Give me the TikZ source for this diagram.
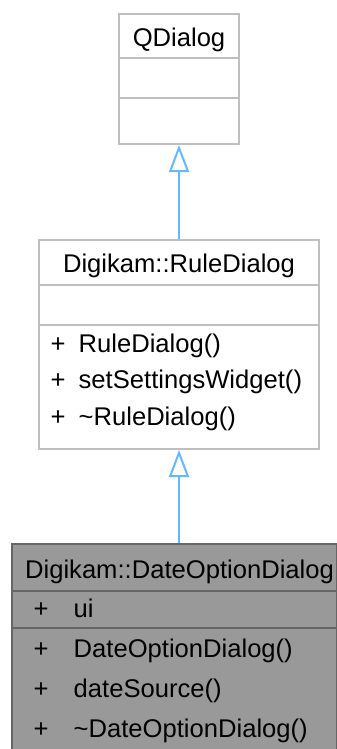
\documentclass[tikz,border=0pt]{standalone}
\usepackage{fontspec}
\setmainfont{Liberation Sans}
\usetikzlibrary{arrows.meta, positioning}
\definecolor{cedge}{HTML}{63B8FF}
\definecolor{cframe}{HTML}{BFBFBF}
\definecolor{cdark}{HTML}{666666}
\definecolor{cfill}{HTML}{999999}
\tikzset{
  every picture/.style={x=1pt, y=-1pt, font=\fontsize{25.6}{30}\selectfont},
  cls/.style={draw=#1, line width=2pt, inner sep=0pt, anchor=north west},
  cls/.default=cframe,
  divider/.style={draw=#1, line width=2pt},
  divider/.default=cframe,
  title/.style={anchor=base, inner sep=0pt},
  memb/.style={anchor=base west, inner sep=0pt},
  inherit/.style={-{Triangle[open, length=27pt, width=20pt]}, draw=cedge, line width=2pt},
}
% name, box, x offset, gap after sign, drop, text
\newcommand{\member}[6]{\node[memb] (#1) at ([shift={(#3,#5)}]#2.north west) {\makebox[#4][l]{+}#6};}

\begin{document}
\begin{tikzpicture}
  \useasboundingbox (0,0) rectangle (337,749);
  % QDialog
  \node[cls, minimum width=120pt, minimum height=130pt] (qdialog) at (118,13) {};
  \draw[divider] ([yshift=-45pt]qdialog.north west) -- ([yshift=-45pt]qdialog.north east);
  \draw[divider] ([yshift=-85pt]qdialog.north west) -- ([yshift=-85pt]qdialog.north east);
  \node[title] (qdname) at ([yshift=-34pt]qdialog.north) {QDialog};
  % Digikam::RuleDialog
  \node[cls, minimum width=280pt, minimum height=209pt] (ruledlg) at (38,239) {};
  \draw[divider] ([yshift=-46pt]ruledlg.north west) -- ([yshift=-46pt]ruledlg.north east);
  \draw[divider] ([yshift=-86pt]ruledlg.north west) -- ([yshift=-86pt]ruledlg.north east);
  \node[title] (rdname) at ([yshift=-33pt]ruledlg.north) {Digikam::RuleDialog};
  \member{rdm1}{ruledlg}{12.5pt}{28pt}{113}{RuleDialog()}
  \member{rdm2}{ruledlg}{12.5pt}{28pt}{149}{setSettingsWidget()}
  \member{rdm3}{ruledlg}{12.5pt}{28pt}{186}{\textasciitilde RuleDialog()}
  % Digikam::DateOptionDialog
  \node[cls=cdark, fill=cfill, minimum width=325pt, minimum height=212pt] (dateopt) at (11,543) {};
  \draw[divider=cdark] ([yshift=-48pt]dateopt.north west) -- ([yshift=-48pt]dateopt.north east);
  \draw[divider=cdark] ([yshift=-85pt]dateopt.north west) -- ([yshift=-85pt]dateopt.north east);
  \node[title] (doname) at ([shift={(5,35)}]dateopt.north) {Digikam::DateOptionDialog};
  \member{doa1}{dateopt}{22.5pt}{40pt}{74}{ui}
  \member{dom1}{dateopt}{22.5pt}{40pt}{114}{DateOptionDialog()}
  \member{dom2}{dateopt}{22.5pt}{40pt}{154}{dateSource()}
  \member{dom3}{dateopt}{22.5pt}{40pt}{194}{\textasciitilde DateOptionDialog()}
  % inheritance
  \draw[inherit] (ruledlg.north) -- (qdialog.south);
  \draw[inherit] (ruledlg.south |- dateopt.north) -- (ruledlg.south);
\end{tikzpicture}
\end{document}
